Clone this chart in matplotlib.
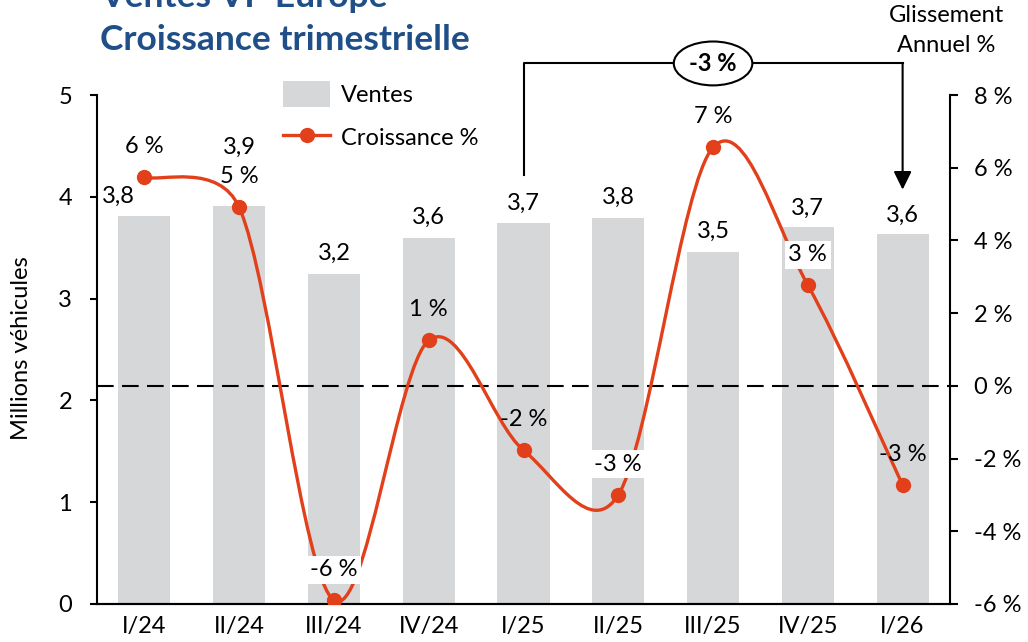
import numpy as np
import matplotlib.pyplot as plt
from matplotlib.path import Path
from matplotlib.patches import PathPatch, Patch
from matplotlib.lines import Line2D
from matplotlib.ticker import FuncFormatter

plt.rcParams['font.family'] = ['Lato', 'DejaVu Sans']

# ==========================
# DATA
# ==========================
quarters = ["I/24", "II/24", "III/24", "IV/24", "I/25", "II/25", "III/25", "IV/25", "I/26"]
ventes = [3.81, 3.91, 3.24, 3.60, 3.74, 3.79, 3.46, 3.70, 3.63]          # millions
croissance = [5.74, 4.91, -5.90, 1.25, -1.77, -3.00, 6.56, 2.77, -2.73]  # %
glissement_label = "-3 %"

BAR_COLOR = "#D6D7D9"
LINE_COLOR = "#E2401A"
TITLE_COLOR = "#1F4E89"
FS = 17

# label offsets (points) for bar values, and which growth labels get a white box
bar_offsets = [(-19, 14), (0, 42), (0, 15), (0, 14.5), (0, 14.5), (0, 15), (0, 14.5), (0, 14), (0, 14)]
white_box = [2, 5, 7]


def smooth_path(a, xs, ys):
    # excel-like smoothed line: catmull-rom bezier in screen space,
    # control arm capped at half the segment length
    pts = a.transData.transform(np.column_stack([xs, ys]).astype(float))
    n = len(pts)
    verts = [pts[0]]
    codes = [Path.MOVETO]
    for i in range(n - 1):
        p0 = pts[i - 1] if i > 0 else pts[i]
        p1 = pts[i]
        p2 = pts[i + 1]
        p3 = pts[i + 2] if i + 2 < n else pts[i + 1]
        d12 = np.hypot(*(p2 - p1))
        d02 = np.hypot(*(p2 - p0))
        d13 = np.hypot(*(p3 - p1))
        f1 = 1 / 6 if d02 / 6 < d12 / 2 else d12 / (2 * d02)
        f2 = 1 / 6 if d13 / 6 < d12 / 2 else d12 / (2 * d13)
        verts += [p1 + f1 * (p2 - p0), p2 - f2 * (p3 - p1), p2]
        codes += [Path.CURVE4] * 3
    verts = a.transData.inverted().transform(np.array(verts))
    return Path(verts, codes)


# ==========================
# FIGURE
# ==========================
fig = plt.figure(figsize=(10.28, 6.42), dpi=100)
ax = fig.add_axes([97 / 1028, 38 / 642, 853 / 1028, 509 / 642])
ax2 = ax.twinx()

x = np.arange(len(quarters))
ax.bar(x, ventes, width=0.55, color=BAR_COLOR, zorder=1)

for i, v in enumerate(ventes):
    ax.annotate(f"{v:.1f}".replace(".", ","), (i, v), xytext=bar_offsets[i],
                textcoords="offset points", ha="center", va="center", fontsize=FS)

ax.set_xlim(-0.5, len(quarters) - 0.5)
ax.set_ylim(0, 5)
ax.set_yticks(range(6))
ax.set_xticks(x)
ax.set_xticklabels(quarters)

ax2.set_xlim(-0.5, len(quarters) - 0.5)
ax2.set_ylim(-6, 8)
ax2.set_yticks(range(-6, 9, 2))
ax2.yaxis.set_major_formatter(FuncFormatter(lambda v, p: f"{v:.0f} %"))

# growth line
ax2.axhline(0, color="black", lw=1.5, dashes=(8, 4), zorder=2)
ax2.add_patch(PathPatch(smooth_path(ax2, x, croissance), fill=False,
                        edgecolor=LINE_COLOR, lw=2.4, zorder=3))
ax2.plot(x, croissance, "o", color=LINE_COLOR, ms=10, zorder=4)

for i, v in enumerate(croissance):
    bbox = dict(boxstyle="square,pad=0.15", fc="white", ec="none") if i in white_box else None
    ax2.annotate(f"{v:.0f} %", (i, v), xytext=(0, 22), textcoords="offset points",
                 ha="center", va="center", fontsize=FS, bbox=bbox, zorder=5)

# spines / ticks
for a in (ax, ax2):
    a.spines["top"].set_visible(False)
    for s in a.spines.values():
        s.set_linewidth(1.5)
ax.spines["right"].set_visible(False)
ax2.spines["left"].set_visible(False)
ax.tick_params(axis="y", direction="out", length=5, width=1.5, pad=13, labelsize=FS)
ax.tick_params(axis="x", length=0, pad=9, labelsize=FS)
ax2.tick_params(axis="y", direction="out", length=6, width=1.5, pad=11, labelsize=FS)

# bracket: annual change from I/25 to I/26
i0, i1 = 4, 8
y_top = 5.31
ax.plot([i0, i0, i1], [ventes[i0] + 0.47, y_top, y_top], color="black", lw=1.5, clip_on=False)
ax.annotate("", xy=(i1, ventes[i1] + 0.44), xytext=(i1, y_top),
            arrowprops=dict(arrowstyle="-|>,head_length=0.55,head_width=0.27", color="black",
                            lw=1.5, mutation_scale=20, shrinkA=0, shrinkB=0),
            annotation_clip=False)
ax.text((i0 + i1) / 2, y_top, glissement_label, ha="center", va="center", fontsize=FS,
        fontweight="bold", zorder=6,
        bbox=dict(boxstyle="ellipse,pad=0.17", fc="white", ec="black", lw=1.5))

# titles
fig.text(100 / 1028, 1 - 7 / 642, "Ventes VP Europe", fontsize=25.5, fontweight="bold",
         color=TITLE_COLOR, va="baseline")
fig.text(100 / 1028, 1 - 50 / 642, "Croissance trimestrielle", fontsize=25.5, fontweight="bold",
         color=TITLE_COLOR, va="baseline")
fig.text(22 / 1028, 1 - 348 / 642, "Millions véhicules", rotation=90, ha="center",
         va="center", fontsize=FS)
fig.text(946 / 1028, 1 - 16 / 642, "Glissement", ha="center", va="center", fontsize=FS)
fig.text(946 / 1028, 1 - 45 / 642, "Annuel %", ha="center", va="center", fontsize=FS)

# legend
handles = [Patch(fc=BAR_COLOR),
           Line2D([], [], color=LINE_COLOR, lw=2.4, marker="o", ms=10)]
fig.legend(handles, ["Ventes", "Croissance %"], loc="upper left",
           bbox_to_anchor=(283 / 1028, 1 - 81 / 642), frameon=False, fontsize=FS,
           handlelength=2.0, handleheight=1.3, labelspacing=0.75, handletextpad=0.45,
           borderpad=0, borderaxespad=0)

fig.savefig("out.png", dpi=100)
